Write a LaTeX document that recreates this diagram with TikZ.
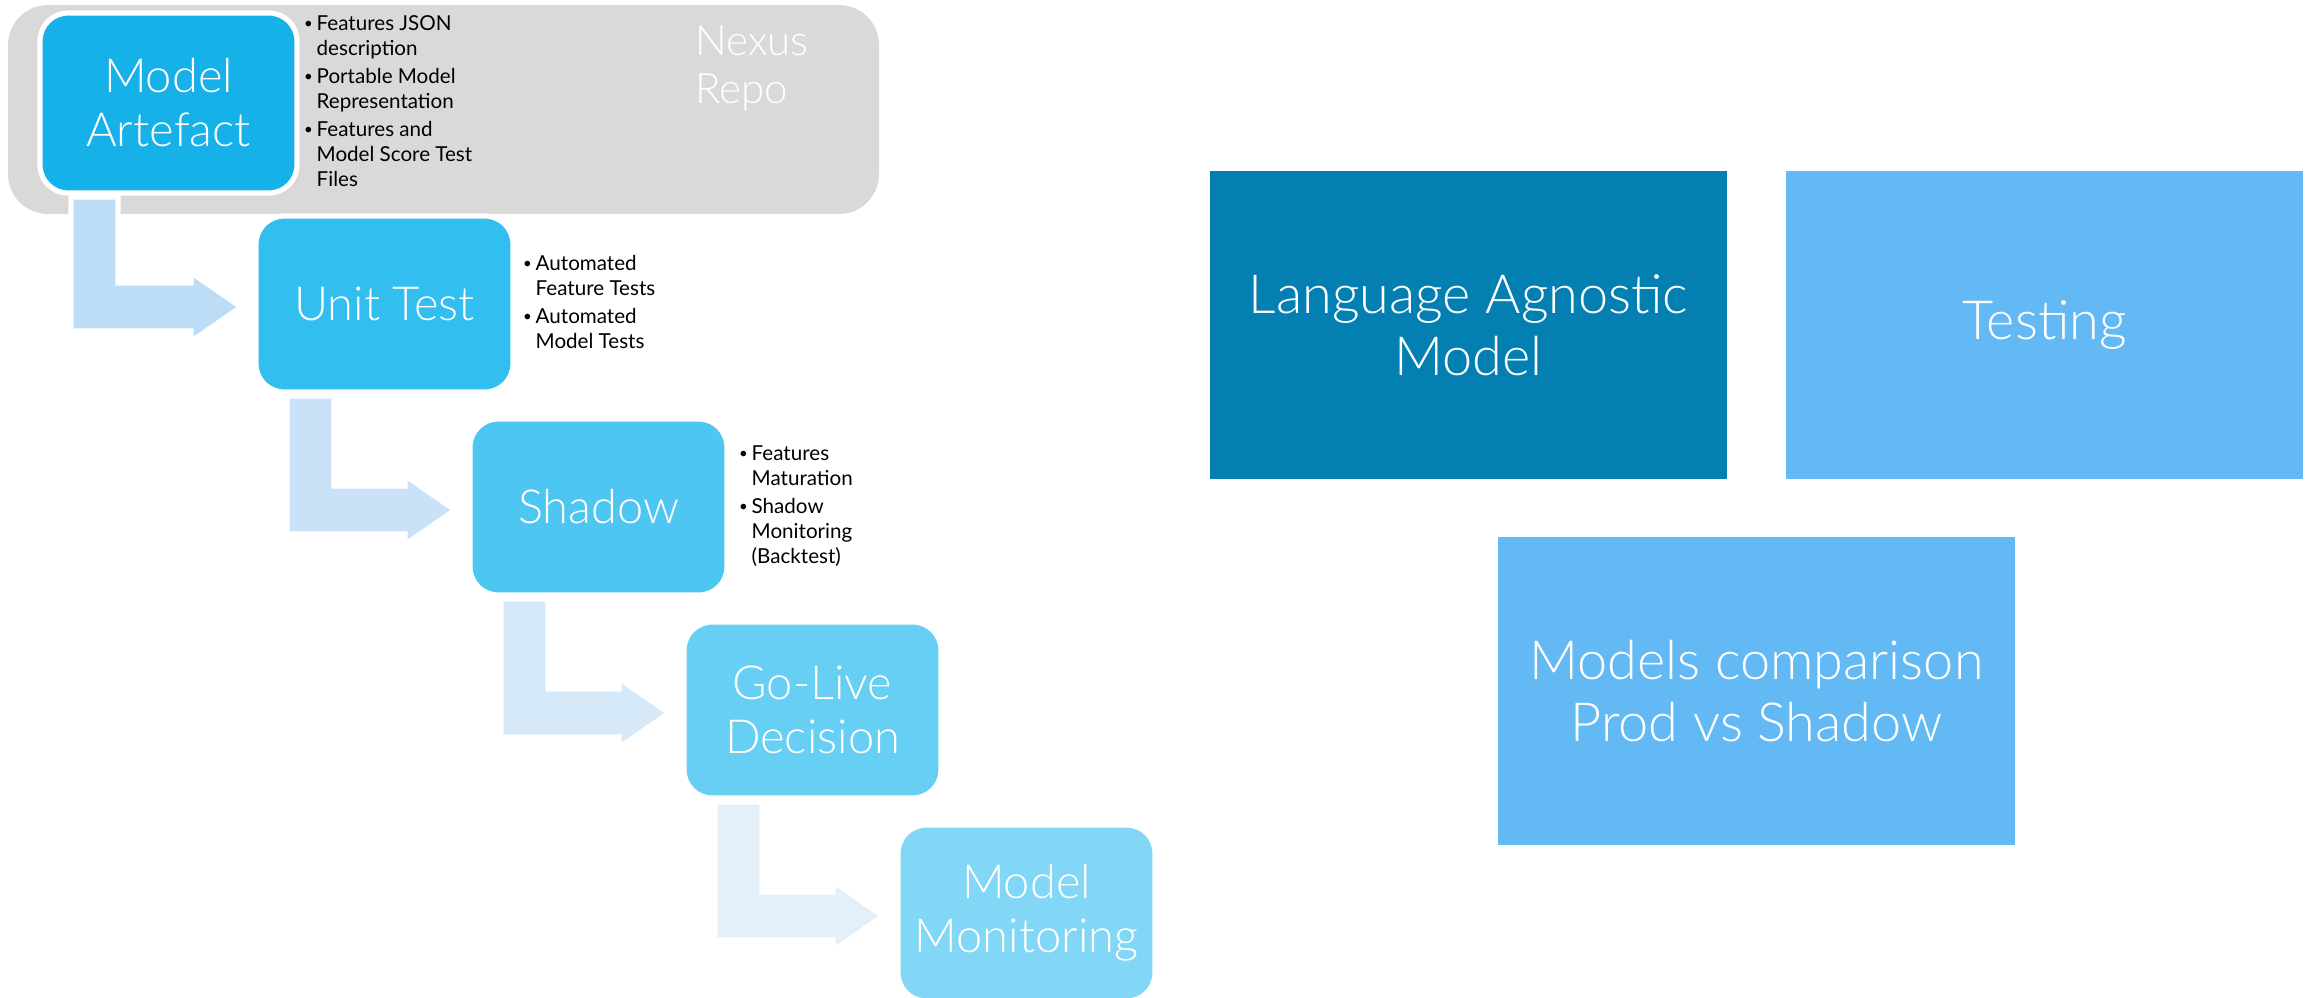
\documentclass[tikz,border=0pt]{standalone}
\usepackage{fontspec}
\setmainfont{Lato}
\IfFontExistsTF{Lato Light}{\newfontfamily\lightfont{Lato Light}}{\newfontfamily\lightfont{Lato}}
\usetikzlibrary{calc,positioning}

\definecolor{stageA}{HTML}{17B1E9}
\definecolor{stageB}{HTML}{33BEF0}
\definecolor{stageC}{HTML}{4DC6F2}
\definecolor{stageD}{HTML}{67CEF4}
\definecolor{stageE}{HTML}{82D7F6}
\definecolor{arrA}{HTML}{BDDCF5}
\definecolor{arrB}{HTML}{C9E2F7}
\definecolor{arrC}{HTML}{D6E9F8}
\definecolor{arrD}{HTML}{E3F0FA}
\definecolor{repogray}{HTML}{D9D9D9}
\definecolor{deepblue}{HTML}{037FB1}
\definecolor{skyblue}{HTML}{63B9F3}

% small bullet for the stage notes
\newcommand\dotmark{\raisebox{.9pt}{\fontsize{7.5}{7.5}\selectfont•}}

\tikzset{
  stage/.style={draw=white, line width=2.6pt, rounded corners=14pt, anchor=north west,
    minimum width=128.5pt, minimum height=88pt, inner sep=2pt, outer sep=0pt,
    align=center, text=white, font=\lightfont\fontsize{23.5}{27}\selectfont},
  notes/.style={inner sep=0pt, outer sep=0pt, font=\fontsize{10.3}{12.5}\selectfont},
  flow/.style={draw=white, line width=2.6pt},
  block/.style={minimum width=258.5pt, minimum height=154pt, inner sep=0pt, outer sep=0pt,
    align=center, text=white, font=\lightfont\fontsize{27}{31}\selectfont}
}

\begin{document}
\begin{tikzpicture}[x=0.5pt,y=-0.5pt]
  \useasboundingbox (0,0) rectangle (2308,997);

  % repository band behind the first stage
  \fill[repogray, rounded corners=20pt] (8,5) rectangle (879,214);
  \node[anchor=north west, inner sep=0pt, align=left, text=white,
    font=\lightfont\fontsize{21}{24}\selectfont] (nexus) at (695,25) {Nexus\\Repo};

  % pipeline stages
  \node[stage, fill=stageA, minimum height=90pt] (art) at (40,13) {Model\\Artefact};
  \node[stage, fill=stageB] (unit) at (256,216) {Unit Test};
  \node[stage, fill=stageC] (shad) at (470,419) {Shadow};
  \node[stage, fill=stageD] (golive) at (684,622) {Go-Live\\Decision};
  \node[stage, fill=stageE] (mon) at (898,825) {Model\\Monitoring};

  % bent arrows between stages
  \foreach \a/\b/\c in {art/unit/arrA, unit/shad/arrB, shad/golive/arrC, golive/mon/arrD}
    \filldraw[flow, fill=\c] ($(\a.south west)+(31,4)$) -- ++(47,0)
      |- ($(\b.west)+(-65,-21)$) -- ++(0,-10.5) -- ($(\b.west)+(-15,3)$)
      -- ++(-50,34.5) -- ++(0,-10.5) -| ($(\a.south west)+(31,4)$) -- cycle;

  % notes next to the stages
  \node[notes, right=3.5pt of art] (artnotes) {\begin{tabular}{@{}l@{\hspace{2pt}}l@{}}
    \dotmark&Features JSON\\&description\\[1.5pt]
    \dotmark&Portable Model\\&Representation\\[1.5pt]
    \dotmark&Features and\\&Model Score Test\\&Files\end{tabular}};
  \node[notes, right=5pt of unit] (unitnotes) {\begin{tabular}{@{}l@{\hspace{2pt}}l@{}}
    \dotmark&Automated\\&Feature Tests\\[1.5pt]
    \dotmark&Automated\\&Model Tests\end{tabular}};
  \node[notes, right=6pt of shad] (shadnotes) {\begin{tabular}{@{}l@{\hspace{2pt}}l@{}}
    \dotmark&Features\\&Maturation\\[1.5pt]
    \dotmark&Shadow\\&Monitoring\\&(Backtest)\end{tabular}};

  % summary blocks
  \node[block, fill=deepblue, anchor=north west] (lam) at (1210,171) {Language Agnostic\\Model};
  \node[block, fill=skyblue, right=29.5pt of lam] (tst) {Testing};
  \coordinate (mid) at ($(lam.south)!.5!(tst.south)$);
  \node[block, fill=skyblue, below=29pt of mid] (cmp) {Models comparison\\Prod vs Shadow};
\end{tikzpicture}
\end{document}
